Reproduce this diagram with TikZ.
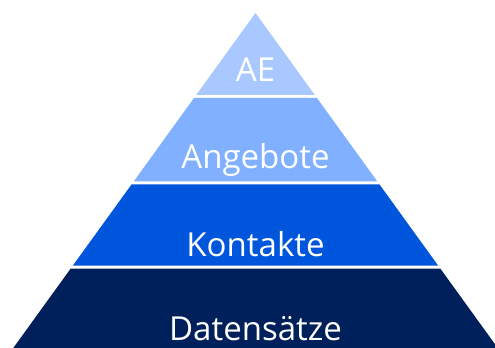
\documentclass[tikz,border=0pt]{standalone}
\usepackage{fontspec}
\setmainfont{Open Sans}
\definecolor{layerA}{HTML}{A8C8FF}
\definecolor{layerB}{HTML}{80B0FF}
\definecolor{layerC}{HTML}{0055DD}
\definecolor{layerD}{HTML}{00205B}

\begin{document}
\begin{tikzpicture}[scale=0.50,font=\fontsize{47}{56}\selectfont]
  \useasboundingbox (0,0) rectangle (49.5,34.7);
  \clip (0,0) rectangle (49.5,34.7);
  \foreach \t/\b/\c/\n/\l/\y in {33.4/25.2/layerA/ae/AE/26.5, 24.9/16.55/layerB/angebote/Angebote/17.8, 16.25/8.15/layerC/kontakte/Kontakte/9.0, 7.85/-0.5/layerD/datensaetze/Datensätze/0.7}
  {
    \fill[\c] ({25.55-0.7231*(33.4-\t)},\t) -- ({25.55+0.7231*(33.4-\t)},\t)
      -- ({25.55+0.7231*(33.4-\b)},\b) -- ({25.55-0.7231*(33.4-\b)},\b) -- cycle;
    \node[anchor=base,text=white,inner sep=0pt] (\n) at (25.55,\y) {\l};
  }
\end{tikzpicture}
\end{document}
